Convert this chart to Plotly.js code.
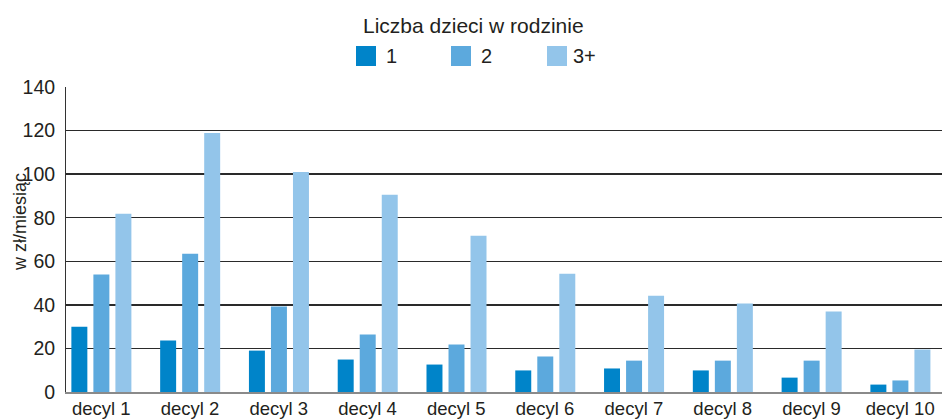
<!DOCTYPE html>
<html>
<head>
<meta charset="utf-8">
<script src="https://cdn.plot.ly/plotly-3.0.1.min.js"></script>
<style>html,body{margin:0;padding:0;background:#fff}#chart{width:942px;height:419px}</style>
</head>
<body>
<div id="chart"></div>
<script>
// Data
var categories = ['decyl 1','decyl 2','decyl 3','decyl 4','decyl 5','decyl 6','decyl 7','decyl 8','decyl 9','decyl 10'];
var seriesNames = ['1','2','3+'];
var children1 = [30.0, 23.6, 19.0, 14.9, 12.6, 9.9, 10.8, 9.9, 6.6, 3.4];
var children2 = [53.9, 63.5, 39.2, 26.4, 21.8, 16.3, 14.4, 14.4, 14.4, 5.3];
var children3 = [81.8, 118.9, 101.0, 90.5, 71.7, 54.3, 44.2, 40.6, 36.9, 19.5];
var colors = ['#0084C9', '#5CA9DD', '#93C5EA'];
var legendTitle = 'Liczba dzieci w rodzinie';
var yTitle = 'w zł/miesiąc';

var W = 942, H = 419;
var L = 66, R = 0, T = 87, B = 27;
var plotW = W - L - R, plotH = H - T - B;
function px(x){ return (x - L) / plotW; }
function py(y){ return (H - B - y) / plotH; }

var idx = categories.map(function(_, i){ return i; });
var allSeries = [children1, children2, children3];
var offsets = [-0.336, -0.088, 0.160];
var font = '"Liberation Sans", Arial, Helvetica, sans-serif';
var textColor = '#231F20';

var traces = allSeries.map(function(vals, k){
  return {
    type: 'bar', x: idx, y: vals, name: seriesNames[k],
    marker: {color: colors[k], line: {width: 0}},
    width: 0.18, offset: offsets[k], showlegend: false,
    hoverinfo: 'x+y'
  };
});

// manual legend (swatches + labels)
var shapes = [], annotations = [];
var swX = [356, 451, 547];
var lbX = [384, 479, 571];
for (var k = 0; k < 3; k++) {
  shapes.push({type:'rect', xref:'paper', yref:'paper', x0:px(swX[k]), x1:px(swX[k]+20), y0:py(66), y1:py(46), fillcolor:colors[k], line:{width:0}, layer:'above'});
  annotations.push({xref:'paper', yref:'paper', x:px(lbX[k]), y:py(56), xanchor:'left', yanchor:'middle', text:seriesNames[k], showarrow:false, font:{family:font, size:20, color:textColor}});
}
annotations.push({xref:'paper', yref:'paper', x:px(473), y:py(25), xanchor:'center', yanchor:'middle', text:legendTitle, showarrow:false, font:{family:font, size:21, color:textColor}});
// y axis title
annotations.push({xref:'paper', yref:'paper', x:px(20), y:py(222), xanchor:'center', yanchor:'middle', textangle:-90, text:yTitle, showarrow:false, font:{family:font, size:18, color:textColor}});

var layout = {
  width: W, height: H,
  margin: {l: L, r: R, t: T, b: B, pad: 0},
  paper_bgcolor: '#fff', plot_bgcolor: '#fff',
  barmode: 'overlay',
  font: {family: font, size: 18, color: textColor},
  xaxis: {
    range: [-0.3965, 9.4706], tickmode: 'array', tickvals: idx, ticktext: categories,
    showgrid: false, zeroline: false, showline: true, linecolor: '#8a8a8a', linewidth: 2,
    ticks: '', ticklabelstandoff: -1, tickfont: {family: font, size: 18.5, color: textColor}, fixedrange: true
  },
  yaxis: {
    range: [0, 140], dtick: 20, tick0: 0, showgrid: true, gridcolor: '#2a2a2a', gridwidth: 1.5,
    zeroline: false, showline: true, linecolor: '#333', linewidth: 1,
    ticks: '', ticklabelstandoff: 6, tickfont: {family: font, size: 19.5, color: textColor},
    fixedrange: true
  },
  shapes: shapes,
  annotations: annotations
};

Plotly.newPlot('chart', traces, layout, {displayModeBar: false, staticPlot: true});
</script>
</body>
</html>
